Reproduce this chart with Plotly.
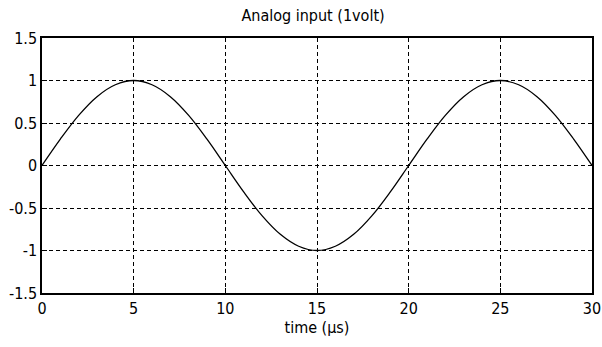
import plotly.graph_objects as go

# time samples (µs) and read signal values (volts)
time_us = list(range(0, 31))
volts = [0.0, 0.31, 0.59, 0.81, 0.95, 1.0, 0.95, 0.81, 0.59, 0.31,
         0.0, -0.31, -0.59, -0.81, -0.95, -1.0, -0.95, -0.81, -0.59, -0.31,
         0.0, 0.31, 0.59, 0.81, 0.95, 1.0, 0.95, 0.81, 0.59, 0.31, 0.0]

x_ticks = [0, 5, 10, 15, 20, 25, 30]
y_ticks = [-1.5, -1, -0.5, 0, 0.5, 1, 1.5]
y_tick_text = ["-1.5", "-1", "-0.5", "0", "0.5", "1", "1.5"]

title_text = "Analog input (1volt)"
x_title = "time (µs)"

FAM = "DejaVu Sans Condensed, Liberation Sans, Arial, sans-serif"
font = dict(family=FAM, size=16, color="black")

fig = go.Figure()
fig.add_trace(go.Scatter(x=time_us, y=volts, mode="lines",
                         line=dict(color="black", width=1.3, shape="spline"),
                         showlegend=False))

fig.update_layout(
    width=602, height=347,
    margin=dict(l=42, r=10, t=38, b=54),
    paper_bgcolor="white", plot_bgcolor="white",
    font=font,
    title=dict(text=title_text, x=0.52, xanchor="center", y=0.955, yanchor="middle",
               font=dict(family=FAM, size=16, color="black")),
)
fig.update_xaxes(range=[0, 30], tickvals=x_ticks, ticktext=[str(v) for v in x_ticks],
                 showgrid=True, gridcolor="black", griddash="4px,3px", gridwidth=1,
                 showline=True, linecolor="black", linewidth=1.5, mirror=True,
                 ticks="inside", ticklen=5, tickcolor="black", automargin=False,
                 zeroline=False, tickfont=font,
                 title=dict(text=x_title, standoff=3, font=font))
fig.update_yaxes(range=[-1.5, 1.5], tickvals=y_ticks, ticktext=y_tick_text,
                 showgrid=True, gridcolor="black", griddash="4px,3px", gridwidth=1,
                 showline=True, linecolor="black", linewidth=1.5, mirror=True,
                 ticks="inside", ticklen=5, tickcolor="black", automargin=False,
                 zeroline=False, tickfont=font)

fig.write_html("out.html")
